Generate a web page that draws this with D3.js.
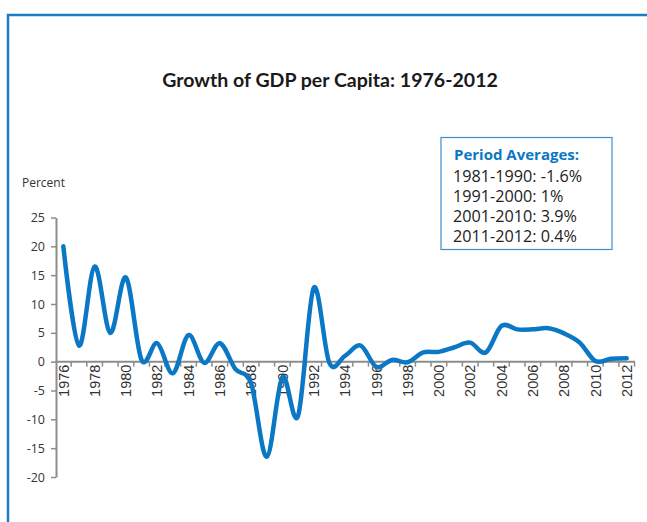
<!DOCTYPE html>
<html>
<head>
<meta charset="utf-8">
<script src="https://cdn.jsdelivr.net/npm/d3@7/dist/d3.min.js"></script>
<style>
  html, body { margin: 0; padding: 0; background: #fff; }
  svg { display: block; }
</style>
</head>
<body>
<div id="chart"></div>
<script>
// ---- Data ----
const years = d3.range(1976, 2013);
const growth = [
  20, 2.8, 16.5, 5, 14.6, 0.3, 3.2, -2, 4.6, -0.2,
  3.2, -1.3, -3.8, -16.5, -2.7, -9.4, 12.8, -0.2, 1.0, 2.8,
  -0.9, 0.3, -0.1, 1.6, 1.7, 2.5, 3.3, 1.6, 6.2, 5.6,
  5.6, 5.8, 4.9, 3.3, 0.1, 0.5, 0.6
];
const yTicks = [25, 20, 15, 10, 5, 0, -5, -10, -15, -20];
const xTickLabels = years.filter((y, i) => i % 2 === 0);
const titleText = "Growth of GDP per Capita: 1976-2012";
const yAxisTitle = "Percent";
const legendTitle = "Period Averages:";
const legendLines = ["1981-1990: -1.6%", "1991-2000: 1%", "2001-2010: 3.9%", "2011-2012: 0.4%"];

// ---- Layout ----
const W = 647, H = 522;
const blue = "#0a78c4";
const axisGray = "#8c8c8c";
const svg = d3.select("#chart").append("svg").attr("width", W).attr("height", H);

// Outer frame (extends beyond the visible area on right/bottom)
svg.append("rect")
  .attr("x", 8).attr("y", 15).attr("width", 700).attr("height", 600)
  .attr("fill", "none").attr("stroke", "#1b7dc8").attr("stroke-width", 2.5);

// Title
const title = svg.append("text")
  .attr("x", 330).attr("y", 87)
  .attr("text-anchor", "middle")
  .attr("font-family", "Lato, 'Open Sans', sans-serif")
  .attr("font-weight", "bold")
  .attr("font-size", 20)
  .attr("fill", "#1a1a1a")
  .text(titleText);
(function fit(){ const w = title.node().getComputedTextLength(); const fs = 20 * 336 / w; title.attr("font-size", fs); })();

// Scales
const x = d3.scaleBand().domain(years).range([55.5, 634.5]).paddingInner(0).paddingOuter(0);
const y = d3.scaleLinear().domain([-20, 25]).range([477, 217.5]);
const cx = d => x(d) + x.bandwidth() / 2;

// Y axis title
svg.append("text")
  .attr("x", 22).attr("y", 187)
  .attr("font-family", "'Open Sans', 'Noto Sans', sans-serif")
  .attr("font-size", 12)
  .attr("fill", "#333")
  .text(yAxisTitle);

// Y axis
const yAxis = svg.append("g").attr("transform", "translate(56,0)")
  .call(d3.axisLeft(y).tickValues(yTicks).tickSize(5).tickSizeOuter(0).tickPadding(6).tickFormat(d => String(d)));
yAxis.select(".domain").attr("stroke", axisGray).attr("stroke-width", 2);
yAxis.selectAll(".tick line").attr("stroke", axisGray).attr("stroke-width", 1.5);
yAxis.selectAll(".tick text")
  .attr("font-family", "'Open Sans', 'Noto Sans', sans-serif")
  .attr("font-size", 12.5).attr("fill", "#333");

// X axis at zero
const y0 = y(0);
const xAxisG = svg.append("g");
xAxisG.append("line")
  .attr("x1", 55.5).attr("x2", 635).attr("y1", y0).attr("y2", y0)
  .attr("stroke", axisGray).attr("stroke-width", 2);
// tick marks at category boundaries
const boundaries = years.map(d => x(d)).concat([x(years[years.length - 1]) + x.bandwidth()]).slice(1);
xAxisG.selectAll("line.tk").data(boundaries).enter().append("line")
  .attr("class", "tk")
  .attr("x1", d => d).attr("x2", d => d)
  .attr("y1", y0).attr("y2", y0 + 5)
  .attr("stroke", axisGray).attr("stroke-width", 1.5);

// X labels (rotated)
xAxisG.selectAll("text.xl").data(xTickLabels).enter().append("text")
  .attr("class", "xl")
  .attr("transform", d => `translate(${cx(d)},${y0 + 3}) rotate(-90)`)
  .attr("text-anchor", "end")
  .attr("dy", "0.36em")
  .attr("font-family", "'Liberation Sans', Arial, sans-serif")
  .attr("font-size", 14.5)
  .attr("fill", "#333")
  .text(d => d);

// Line
const line = d3.line()
  .x((d, i) => cx(years[i]))
  .y(d => y(d))
  .curve(d3.curveCardinal.tension(0));
svg.append("path")
  .datum(growth)
  .attr("d", line)
  .attr("fill", "none")
  .attr("stroke", blue)
  .attr("stroke-width", 4.5)
  .attr("stroke-linejoin", "round")
  .attr("stroke-linecap", "round");

// Legend box
const lg = svg.append("g");
lg.append("rect")
  .attr("x", 441).attr("y", 137.5).attr("width", 171).attr("height", 112)
  .attr("fill", "#fff").attr("stroke", "#3a8fd0").attr("stroke-width", 1.2);
lg.append("text")
  .attr("x", 454).attr("y", 159.5)
  .attr("font-family", "'Open Sans', 'Noto Sans', sans-serif")
  .attr("font-weight", "bold").attr("font-size", 15)
  .attr("fill", blue)
  .text(legendTitle);
lg.selectAll("text.li").data(legendLines).enter().append("text")
  .attr("class", "li")
  .attr("x", 453).attr("y", (d, i) => 181.5 + i * 20.3)
  .attr("font-family", "'Open Sans', 'Noto Sans', sans-serif")
  .attr("font-size", 16.2)
  .attr("fill", "#222")
  .text(d => d);
</script>
</body>
</html>
